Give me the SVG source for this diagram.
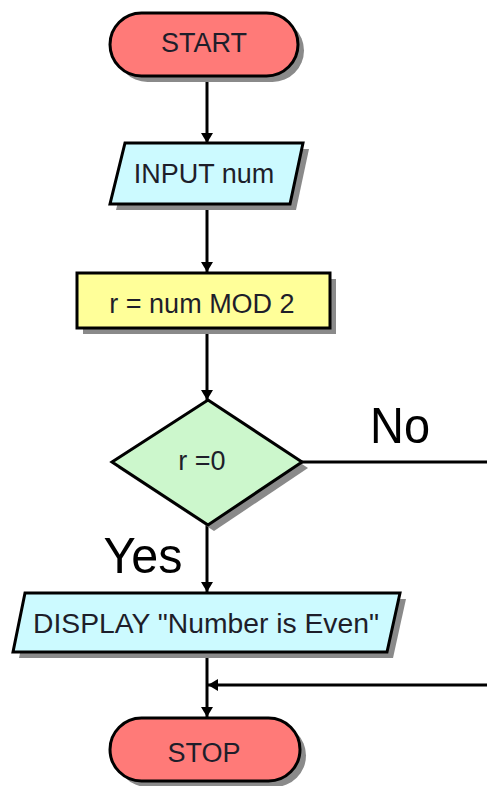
<svg xmlns="http://www.w3.org/2000/svg" width="487" height="786" viewBox="0 0 487 786">
<style>
.sh{fill:#8a8a8a}
.n{stroke:#000;stroke-width:3}
.t{font-family:"Liberation Sans",Arial,sans-serif;font-size:27px;fill:#1e1e2a;text-anchor:middle}
.big{font-family:"Liberation Sans",Arial,sans-serif;font-size:50px;fill:#000;text-anchor:middle}
.c{fill:none;stroke:#000;stroke-width:3}
</style>
<defs>
<marker id="ah" markerWidth="10" markerHeight="12" refX="10" refY="6" orient="auto" markerUnits="userSpaceOnUse" viewBox="0 0 10 12">
<path d="M0,0 L10,6 L0,12 z" fill="#000"/>
</marker>
</defs>
<rect width="487" height="786" fill="#fff"/>
<g id="connectors">
<line class="c" x1="207" y1="76" x2="207" y2="143" marker-end="url(#ah)"/>
<line class="c" x1="207" y1="204" x2="207" y2="272" marker-end="url(#ah)"/>
<line class="c" x1="207" y1="328" x2="207" y2="400" marker-end="url(#ah)"/>
<line class="c" x1="207" y1="525" x2="207" y2="592" marker-end="url(#ah)"/>
<line class="c" x1="207" y1="652" x2="207" y2="717" marker-end="url(#ah)"/>
<polyline class="c" points="302,462 490,462"/>
<polyline class="c" points="490,685 208,685" marker-end="url(#ah)"/>
<text class="big" x="400" y="443" textLength="60" lengthAdjust="spacingAndGlyphs">No</text>
<text class="big" x="143" y="573" textLength="79" lengthAdjust="spacingAndGlyphs">Yes</text>
</g>
<g id="start">
<rect class="sh" x="116" y="19" width="188" height="63" rx="31.5"/>
<rect class="n" x="110" y="13" width="188" height="63" rx="31.5" fill="#ff7a78"/>
<text class="t" x="204" y="52">START</text>
</g>
<g id="input">
<polygon class="sh" points="131,149 309,149 296,210 116,210"/>
<polygon class="n" points="125,143 303,143 290,204 110,204" fill="#ccfaff"/>
<text class="t" x="204" y="183">INPUT num</text>
</g>
<g id="process">
<rect class="sh" x="83" y="279" width="253" height="55"/>
<rect class="n" x="77" y="273" width="253" height="55" fill="#ffff99"/>
<text class="t" x="202" y="313">r = num MOD 2</text>
</g>
<g id="decision">
<polygon class="sh" points="214,406 308,468 214,531 118,468"/>
<polygon class="n" points="208,400 302,462 208,525 112,462" fill="#ccf7cc"/>
<text class="t" x="202" y="470" font-size="24">r =0</text>
</g>
<g id="display">
<polygon class="sh" points="31,599 406,599 393,658 19,658"/>
<polygon class="n" points="25,593 400,593 387,652 13,652" fill="#ccfaff"/>
<text class="t" x="206" y="633" textLength="346" lengthAdjust="spacingAndGlyphs">DISPLAY "Number is Even"</text>
</g>
<g id="stop">
<rect class="sh" x="116" y="724" width="190" height="63" rx="31.5"/>
<rect class="n" x="110" y="718" width="190" height="63" rx="31.5" fill="#ff7a78"/>
<text class="t" x="204" y="762">STOP</text>
</g>
</svg>
